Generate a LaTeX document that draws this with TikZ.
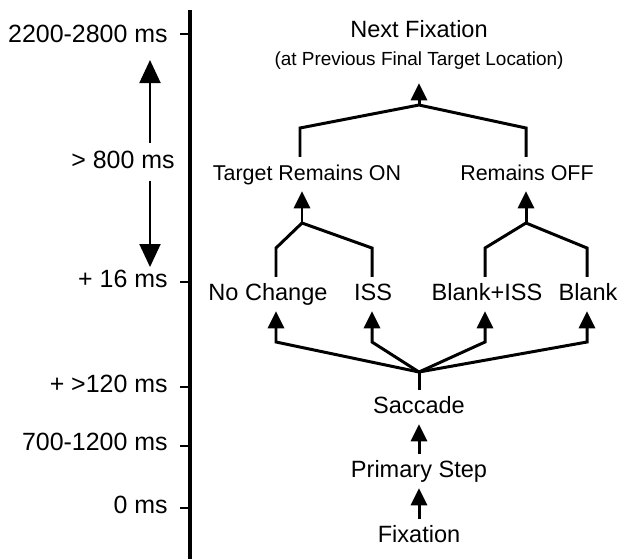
\documentclass[tikz,border=0pt]{standalone}
\usepackage{fontspec}
\setmainfont{Liberation Sans}
\usetikzlibrary{arrows.meta}

\begin{document}
\begin{tikzpicture}[x=0.02cm, y=-0.02cm,
  lbl/.style={anchor=base, inner sep=0.12cm, text height=9.6pt, text depth=2.8pt, font=\fontsize{13.4}{16}\selectfont},
  midlbl/.style={lbl, font=\fontsize{12.2}{15}\selectfont},
  tlbl/.style={lbl, anchor=base east, inner xsep=0pt, inner ysep=0.14cm, text height=10.2pt, text depth=3pt, font=\fontsize{14.2}{17}\selectfont},
  link/.style={line width=1.7pt, line join=miter},
  up/.style={link, -{Triangle[width=0.32cm, length=0.34cm]}},
  span/.style={line width=1.1pt, -{Triangle[width=0.42cm, length=0.46cm]}}]
   \useasboundingbox (0,0) rectangle (618,559);

	%eixo do tempo
   \draw[line width=2pt] (190,10) -- (190,559);
   \foreach \y in {34,282,387,446,508}
      \draw[line width=1.2pt] (180,\y) -- (190,\y);

   \node[tlbl] (t2200) at (168,42) {2200-2800 ms};
   \node[tlbl] (t800) at (175,168) {> 800 ms};
   \node[tlbl] (t16) at (168,287) {+ 16 ms};
   \node[tlbl] (t120) at (168,392) {+ >120 ms};
   \node[tlbl] (t700) at (168,450) {700-1200 ms};
   \node[tlbl] (t0) at (168,513) {0 ms};

   \coordinate (tcol) at (150,0);
   \coordinate (tupper) at (150,60);
   \coordinate (tlower) at (150,267);
   \draw[span] (t800.north -| tcol) -- (tupper);
   \draw[span] (t800.south -| tcol) -- (tlower);

	%etapas
   \node[lbl] (next) at (419,37) {Next Fixation};
   \node[lbl, inner ysep=0.26cm, font=\fontsize{10.8}{13}\selectfont] (prev) at (419,65) {(at Previous Final Target Location)};
   \node[midlbl] (on) at (307,180) {Target Remains ON};
   \node[midlbl] (off) at (527,180) {Remains OFF};
   \node[lbl] (nochg) at (268,300) {No Change};
   \node[lbl] (iss) at (373,300) {ISS};
   \node[lbl] (bliss) at (487,300) {Blank+ISS};
   \node[lbl] (blank) at (588,300) {Blank};
   \node[lbl] (sacc) at (419,413) {Saccade};
   \node[lbl] (prim) at (419,477) {Primary Step};
   \node[lbl] (fix) at (419,542) {Fixation};

	%sequencia inicial
   \draw[up] (fix.north) -- (prim.south);
   \draw[up] (prim.north) -- (sacc.south);

	%divisao apos a sacada
   \coordinate (hub) at (419,372);
   \coordinate (fnochg) at (276,342);
   \coordinate (fiss) at (372,342);
   \coordinate (fbliss) at (485,342);
   \coordinate (fblank) at (587,342);
   \draw[link] (sacc.north) -- (hub);
   \foreach \n in {nochg, iss, bliss, blank}
      \draw[up] (hub) -- (f\n) -- (\n.south -| f\n);

	%juncoes
   \coordinate (lj) at (302,223);
   \coordinate (ll) at (276,248);
   \coordinate (lr) at (372,248);
   \draw[link] (nochg.north -| ll) -- (ll) -- (lj) -- (lr) -- (iss.north -| lr);
   \draw[up] (lj) -- (on.south -| lj);

   \coordinate (rj) at (526,223);
   \coordinate (rl) at (485,248);
   \coordinate (rr) at (587,248);
   \draw[link] (bliss.north -| rl) -- (rl) -- (rj) -- (rr) -- (blank.north -| rr);
   \draw[up] (rj) -- (off.south -| rj);

   \coordinate (topj) at (419,105);
   \coordinate (topl) at (300,128);
   \coordinate (topr) at (526,128);
   \draw[link] (on.north -| topl) -- (topl) -- (topj) -- (topr) -- (off.north -| topr);
   \draw[up] (topj) -- (prev.south);
\end{tikzpicture}
\end{document}
